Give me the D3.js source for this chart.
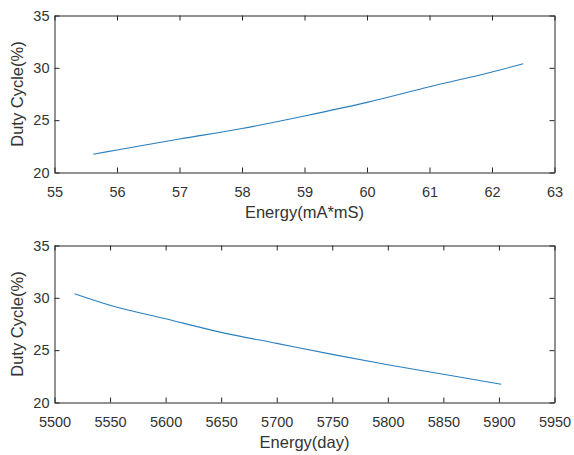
<!DOCTYPE html>
<html lang="en">
<head>
    <meta charset="UTF-8">
    <title>Duty Cycle vs Energy</title>
    <style>
        body {
            margin: 0;
            background: #fff;
        }
        .axis path, .axis line {
            stroke: #262626;
            stroke-width: 1px;
        }
        .axis text {
            fill: #333;
            font-family: "Liberation Sans", Arial, sans-serif;
            font-size: 14.5px;
        }
        .label {
            fill: #333;
            font-family: "Liberation Sans", Arial, sans-serif;
            font-size: 16.5px;
        }
        .curve {
            fill: none;
            stroke: #2a7fbd;
            stroke-width: 1.1px;
        }
    </style>
    <script src="https://d3js.org/d3.v7.min.js"></script>
</head>
<body>
    <svg width="574" height="455"></svg>
    <script>
        // top panel: duty cycle against energy in mA*mS
        const energyCharge = [55.62, 56, 57, 58, 59, 60, 61, 62, 62.5];
        const dutyTop = [21.75, 22.15, 23.2, 24.2, 25.4, 26.7, 28.2, 29.6, 30.4];
        const chargeTicks = [55, 56, 57, 58, 59, 60, 61, 62, 63];

        // bottom panel: duty cycle against lifetime in days
        const energyDays = [5518, 5550, 5600, 5650, 5700, 5750, 5800, 5850, 5902];
        const dutyBottom = [30.4, 29.3, 28.0, 26.7, 25.65, 24.6, 23.6, 22.7, 21.75];
        const dayTicks = [5500, 5550, 5600, 5650, 5700, 5750, 5800, 5850, 5900, 5950];

        const dutyTicks = [20, 25, 30, 35];

        const svg = d3.select("svg");

        function drawPanel(top, bottom, xs, ys, xTicks, xLabel) {
            const left = 54.5, right = 554.5;
            const x = d3.scaleLinear()
                .domain([xTicks[0], xTicks[xTicks.length - 1]])
                .range([left, right]);
            const y = d3.scaleLinear()
                .domain([20, 35])
                .range([bottom, top]);

            const g = svg.append("g");

            g.append("g")
                .attr("class", "axis")
                .attr("transform", `translate(0,${bottom})`)
                .call(d3.axisBottom(x).tickValues(xTicks).tickFormat(d3.format("d"))
                    .tickSizeInner(-5).tickSizeOuter(0).tickPadding(14.5));

            g.append("g")
                .attr("class", "axis")
                .attr("transform", `translate(0,${top})`)
                .call(d3.axisTop(x).tickValues(xTicks).tickSizeInner(-5).tickSizeOuter(0).tickFormat(""));

            g.append("g")
                .attr("class", "axis")
                .attr("transform", `translate(${left},0)`)
                .call(d3.axisLeft(y).tickValues(dutyTicks).tickSizeInner(-5).tickSizeOuter(0).tickPadding(5));

            g.append("g")
                .attr("class", "axis")
                .attr("transform", `translate(${right},0)`)
                .call(d3.axisRight(y).tickValues(dutyTicks).tickSizeInner(-5).tickSizeOuter(0).tickFormat(""));

            const line = d3.line()
                .x((d, i) => x(xs[i]))
                .y(d => y(d))
                .curve(d3.curveMonotoneX);

            g.append("path")
                .datum(ys)
                .attr("class", "curve")
                .attr("d", line);

            g.append("text")
                .attr("class", "label")
                .attr("x", (left + right) / 2)
                .attr("y", bottom + 45.5)
                .attr("text-anchor", "middle")
                .text(xLabel);

            g.append("text")
                .attr("class", "label")
                .attr("transform", `translate(23,${(top + bottom) / 2}) rotate(-90)`)
                .attr("text-anchor", "middle")
                .text("Duty Cycle(%)");
        }

        drawPanel(15.5, 172.5, energyCharge, dutyTop, chargeTicks, "Energy(mA*mS)");
        drawPanel(245.5, 402.5, energyDays, dutyBottom, dayTicks, "Energy(day)");
    </script>
</body>
</html>
